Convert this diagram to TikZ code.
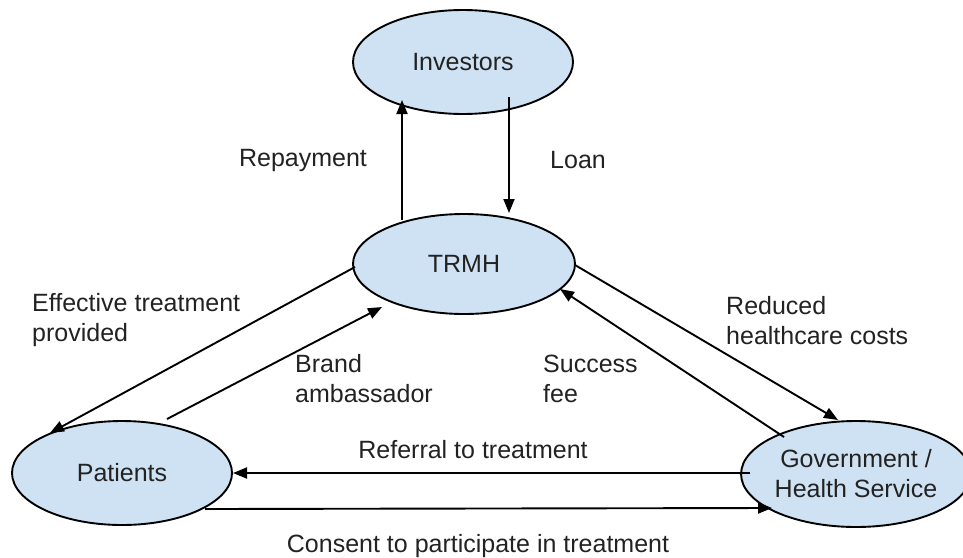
\documentclass[tikz,border=0pt]{standalone}
\usepackage{fontspec}
\setmainfont{Liberation Sans}
\usetikzlibrary{shapes.geometric,arrows.meta,calc}
\definecolor{bubble}{RGB}{207,226,243}
\definecolor{ink}{RGB}{34,34,34}
\begin{document}
\begin{tikzpicture}[x=1pt,y=-1pt,
  party/.style={ellipse,draw=black,line width=1.9pt,fill=bubble,inner sep=0pt,
    text=ink,font=\fontsize{25}{30}\selectfont,align=center},
  flow/.style={line width=1.9pt,-{Triangle[length=14pt,width=11pt]}},
  tag/.style={text=ink,font=\fontsize{25}{30}\selectfont,inner sep=0pt}]
\useasboundingbox (0,0) rectangle (963,557);

% the four parties
\node[party,minimum width=220pt,minimum height=104pt] (inv)  at (463,62)  {Investors};
\node[party,minimum width=222pt,minimum height=100pt] (trmh) at (464,264) {TRMH};
\node[party,minimum width=220pt,minimum height=104pt] (pat)  at (122,473) {Patients};
\node[party,minimum width=212pt,minimum height=106pt] (gov)  at (856,474) {Government /\\Health Service};

% money and service flows
\draw[flow] ([shift={(-62,-44)}]trmh.center) -- ([shift={(-61,38)}]inv.center);
\draw[flow] ([shift={(46,35)}]inv.center) -- ([shift={(45,-51)}]trmh.center);
\draw[flow] ([shift={(-109,3)}]trmh.center) -- ([shift={(-72,-40)}]pat.center);
\draw[flow] ([shift={(45,-54)}]pat.center) -- ([shift={(-82,43)}]trmh.center);
\draw[flow] ([shift={(111,1)}]trmh.center) -- ([shift={(-18,-54)}]gov.center);
\draw[flow] ([shift={(-72,-37)}]gov.center) -- ([shift={(96,25)}]trmh.center);
\draw[flow] ([shift={(-106,-1)}]gov.center) -- ([shift={(111,0)}]pat.center);
\draw[flow] ([shift={(83,36)}]pat.center) -- ([shift={(-84,34)}]gov.center);

% flow labels
\node[tag] (lrep) at (303,160) {Repayment};
\node[tag] (lloan) at (578,160) {Loan};
\node[tag,anchor=west,align=left] (leff) at (32,320) {Effective treatment\\provided};
\node[tag,anchor=west,align=left] (lbrand) at (295,379) {Brand\\ambassador};
\node[tag,anchor=west,align=left] (lsucc) at (543,379) {Success\\fee};
\node[tag,anchor=west,align=left] (lred) at (726,321) {Reduced\\healthcare costs};
\node[tag] (lref) at (473,450) {Referral to treatment};
\node[tag] (lcon) at (478,546) {Consent to participate in treatment};
\end{tikzpicture}
\end{document}
